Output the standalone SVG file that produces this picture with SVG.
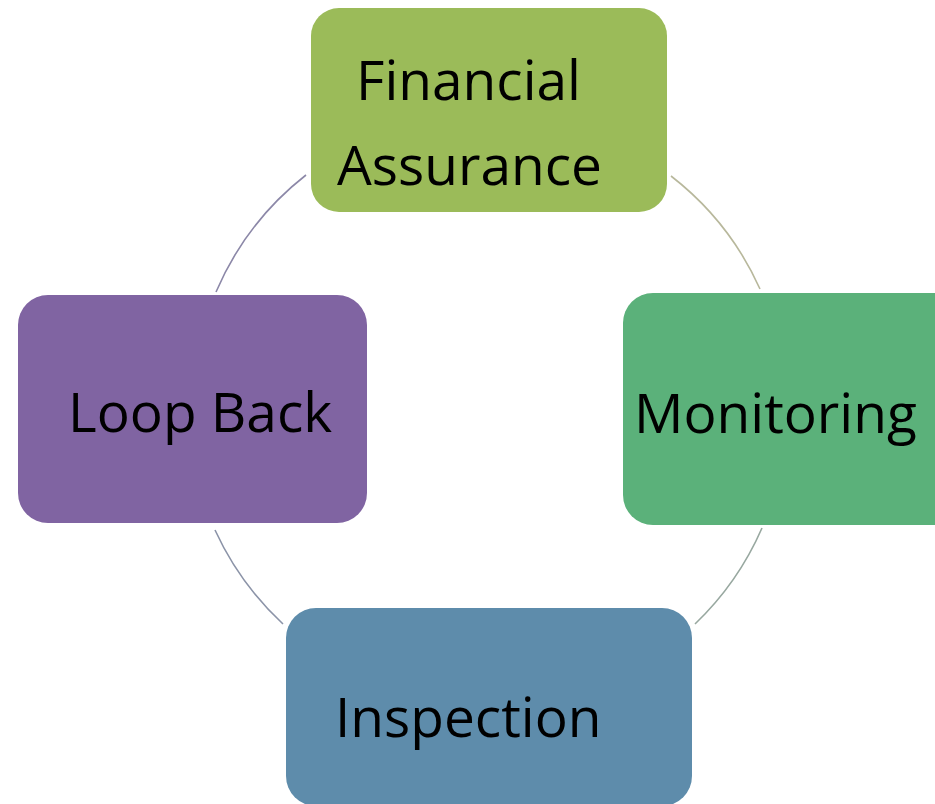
<svg xmlns="http://www.w3.org/2000/svg" width="935" height="804" viewBox="0 0 935 804">
  <style>
    .lbl { font-family: "Open Sans", "Liberation Sans", sans-serif; font-size: 55px; fill: #000; }
    .arc { fill: none; stroke-width: 1.6; }
  </style>
  <rect width="935" height="804" fill="#ffffff"/>
  <g id="connectors">
    <path class="arc" stroke="#8c88a8" d="M216,292 A297,297 0 0 1 306,175"/>
    <path class="arc" stroke="#b8b89c" d="M671,176 A297,297 0 0 1 760,289"/>
    <path class="arc" stroke="#98a8a0" d="M762,528 A297,297 0 0 1 695,624"/>
    <path class="arc" stroke="#8c94a8" d="M283,624 A297,297 0 0 1 215,530"/>
  </g>
  <g id="financial-assurance">
    <rect x="311" y="8" width="356" height="204" rx="28" fill="#9bbb59"/>
    <text class="lbl" x="356" y="100">Financial</text>
    <text class="lbl" x="337" y="185">Assurance</text>
  </g>
  <g id="monitoring">
    <rect x="623" y="293" width="340" height="232" rx="30" fill="#5bb17a"/>
    <text class="lbl" x="634" y="433">Monitoring</text>
  </g>
  <g id="inspection">
    <rect x="286" y="608" width="406" height="198" rx="30" fill="#5e8cab"/>
    <text class="lbl" x="335" y="737">Inspection</text>
  </g>
  <g id="loop-back">
    <rect x="18" y="295" width="349" height="228" rx="30" fill="#8064a2"/>
    <text class="lbl" x="68" y="432">Loop Back</text>
  </g>
</svg>
